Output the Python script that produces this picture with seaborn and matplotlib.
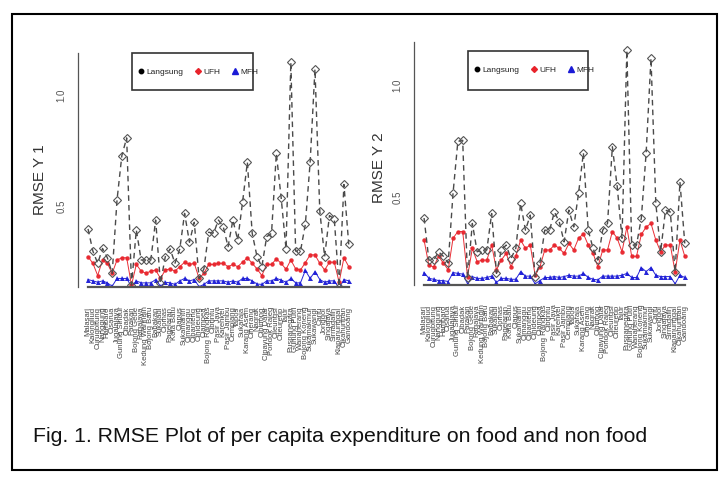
import numpy as np
import pandas as pd
import matplotlib
matplotlib.use("Agg")
import matplotlib.pyplot as plt
import seaborn as sns
from matplotlib.lines import Line2D
from matplotlib.patches import Rectangle

villages = [
    "Malasari", "Kalongliud", "Curugbitung", "Nanggung", "Hambaro", "Cisarua",
    "Jugalajaya", "Gunung Sindur", "Cibadak", "Parakan", "Bojong Gede", "Ragajaya",
    "Kedung Waringin", "Bojong Baru", "Babakan", "Sukajadi", "Ciomas", "Pagelaran",
    "Kota Batu", "Ciapus", "Sukamantri", "Cimanggu", "Cibanteng", "Cihideung",
    "Ciampea", "Bojong Rangkas", "Cibuntu", "Pasir Jaya", "Karehkel", "Pasir Jambu",
    "Cemplang", "Tapos", "Sukaraja", "Karang Asem", "Ciherang", "Nagrak",
    "Cibinong", "Cipayung Datar", "Pondok Rajeg", "Cileungsi", "Citeureup", "Tajur",
    "Puspanegara", "Gunung Putri", "Wanaherang", "Bojong Koneng", "Sukamakmur",
    "Sukawangi", "Cariu", "Jonggol", "Singajaya", "Sirnagalih", "Klapanunggal",
    "Cikahuripan", "Gandoang",
]

langsung_y1 = [0.40, 0.30, 0.245, 0.312, 0.27, 0.20, 0.53, 0.73, 0.81, 0.147,
               0.395, 0.26, 0.26, 0.26, 0.44, 0.155, 0.275, 0.31, 0.245, 0.31,
               0.47, 0.34, 0.43, 0.177, 0.22, 0.385, 0.38, 0.44, 0.41, 0.32,
               0.44, 0.35, 0.52, 0.70, 0.38, 0.275, 0.23, 0.365, 0.38, 0.74,
               0.54, 0.31, 1.15, 0.30, 0.30, 0.42, 0.70, 1.12, 0.48, 0.275,
               0.46, 0.445, 0.14, 0.60, 0.33]
ufh_y1 = [0.275, 0.245, 0.19, 0.26, 0.245, 0.20, 0.26, 0.27, 0.27, 0.147,
          0.24, 0.21, 0.20, 0.21, 0.215, 0.177, 0.215, 0.22, 0.21, 0.23,
          0.25, 0.24, 0.245, 0.177, 0.20, 0.24, 0.24, 0.245, 0.245, 0.23,
          0.24, 0.23, 0.25, 0.27, 0.245, 0.22, 0.19, 0.24, 0.24, 0.265,
          0.245, 0.218, 0.26, 0.22, 0.215, 0.248, 0.283, 0.283, 0.245, 0.215,
          0.25, 0.25, 0.16, 0.27, 0.23]
mfh_y1 = [0.172, 0.166, 0.16, 0.166, 0.157, 0.142, 0.177, 0.177, 0.177, 0.14,
          0.166, 0.157, 0.157, 0.157, 0.172, 0.142, 0.16, 0.157, 0.15, 0.166,
          0.177, 0.166, 0.172, 0.14, 0.15, 0.166, 0.166, 0.166, 0.166, 0.16,
          0.166, 0.16, 0.177, 0.177, 0.166, 0.152, 0.15, 0.166, 0.166, 0.177,
          0.17, 0.16, 0.177, 0.157, 0.157, 0.213, 0.177, 0.208, 0.172, 0.16,
          0.166, 0.166, 0.133, 0.172, 0.166]

langsung_y2 = [0.41, 0.223, 0.223, 0.26, 0.24, 0.21, 0.52, 0.75, 0.755, 0.142,
               0.386, 0.26, 0.268, 0.268, 0.43, 0.164, 0.268, 0.29, 0.23, 0.275,
               0.475, 0.356, 0.423, 0.15, 0.21, 0.356, 0.356, 0.437, 0.393, 0.304,
               0.445, 0.37, 0.52, 0.70, 0.356, 0.275, 0.223, 0.356, 0.386, 0.726,
               0.55, 0.32, 1.155, 0.29, 0.29, 0.41, 0.70, 1.12, 0.475, 0.26,
               0.445, 0.437, 0.17, 0.57, 0.297]
ufh_y2 = [0.312, 0.20, 0.193, 0.24, 0.21, 0.18, 0.32, 0.35, 0.35, 0.15,
          0.275, 0.216, 0.223, 0.223, 0.29, 0.18, 0.223, 0.253, 0.193, 0.24,
          0.312, 0.275, 0.29, 0.156, 0.193, 0.268, 0.268, 0.29, 0.275, 0.253,
          0.297, 0.268, 0.32, 0.34, 0.29, 0.253, 0.193, 0.268, 0.268, 0.35,
          0.32, 0.26, 0.37, 0.24, 0.24, 0.337, 0.37, 0.386, 0.312, 0.26,
          0.29, 0.29, 0.17, 0.312, 0.24]
mfh_y2 = [0.168, 0.142, 0.138, 0.132, 0.132, 0.128, 0.168, 0.164, 0.161, 0.118,
          0.15, 0.142, 0.142, 0.146, 0.152, 0.124, 0.142, 0.142, 0.138, 0.138,
          0.172, 0.152, 0.152, 0.118, 0.132, 0.146, 0.146, 0.15, 0.146, 0.15,
          0.156, 0.152, 0.152, 0.164, 0.146, 0.138, 0.135, 0.152, 0.152, 0.152,
          0.152, 0.156, 0.164, 0.146, 0.146, 0.19, 0.172, 0.19, 0.156, 0.15,
          0.15, 0.15, 0.118, 0.156, 0.146]

series_names = ["Langsung", "UFH", "MFH"]
y_tick_values = [0.5, 1.0]
y_labels = ["RMSE Y 1", "RMSE Y 2"]
caption = "Fig. 1. RMSE Plot of per capita expenditure on food and non food"

sns.set_style("white")
plt.rcParams["font.family"] = ["Liberation Sans", "DejaVu Sans"]

fig = plt.figure(figsize=(7.22, 4.78), dpi=100)
fig.patch.set_facecolor("white")

ax1 = fig.add_axes([0.1075, 0.3994, 0.390, 0.4887])
ax2 = fig.add_axes([0.5729, 0.4035, 0.390, 0.508])

C_BLACK = "#4a4a4a"
C_RED = "#e8232b"
C_BLUE = "#1a1ad6"


def panel(ax, lang, ufh, mfh, ylim, legend_box):
    n = len(villages)
    df = pd.DataFrame({"idx": np.arange(n), "Langsung": lang, "UFH": ufh, "MFH": mfh})
    sns.lineplot(data=df, x="idx", y="MFH", ax=ax, color=C_BLUE, linewidth=0.7,
                 marker="^", markersize=3.6, markeredgewidth=0, alpha=0.95)
    sns.lineplot(data=df, x="idx", y="UFH", ax=ax, color=C_RED, linewidth=0.7,
                 marker="o", markersize=3.2, markeredgewidth=0, alpha=0.95)
    sns.lineplot(data=df, x="idx", y="Langsung", ax=ax, color=C_BLACK, linewidth=1.0,
                 dashes=(4, 3), marker="D", markersize=4.0, markerfacecolor="none",
                 markeredgecolor="#555555", markeredgewidth=0.8)
    ax.set_xlim(-0.04 * (n - 1), (n - 1) * 1.04)
    ax.set_ylim(*ylim)
    ax.set_xlabel("")
    ax.set_ylabel("")
    ax.set_xticks(np.arange(n))
    ax.set_xticklabels(villages, rotation=90, fontsize=5.5, color="#444444",
                       va="top", ha="center")
    ax.set_yticks(y_tick_values)
    ax.set_yticklabels(["0.5", "1.0"], rotation=90, fontsize=7, color="#555555",
                       va="center")
    for s in ["top", "right"]:
        ax.spines[s].set_visible(False)
    ax.spines["left"].set_color("#555555")
    ax.spines["left"].set_linewidth(0.9)
    ax.spines["bottom"].set_color("#555555")
    ax.spines["bottom"].set_linewidth(1.6)
    ax.spines["bottom"].set_bounds(0, n - 1)
    ax.tick_params(axis="x", length=10, width=0.8, color="#555555", pad=4)
    ax.tick_params(axis="y", length=4, width=0.8, color="#555555", pad=4)
    ax.patch.set_alpha(0)

    x0, y0, w, h = legend_box
    ax.add_patch(Rectangle((x0, y0), w, h, transform=ax.transAxes, fill=False,
                           edgecolor="#333333", linewidth=1.2, clip_on=False, zorder=5))
    handles = [
        Line2D([], [], marker="o", color="black", ls="none", markersize=3.2),
        Line2D([], [], marker="D", color=C_RED, ls="none", markersize=3.0),
        Line2D([], [], marker="^", color=C_BLUE, ls="none", markersize=4.0),
    ]
    ax.legend(handles, series_names, ncol=3, frameon=False, fontsize=6,
              loc="center left", bbox_to_anchor=(x0 + 0.005, y0 + h / 2),
              handletextpad=0.15, columnspacing=1.2, handlelength=1.0,
              borderpad=0, labelcolor="#222222")


panel(ax1, langsung_y1, ufh_y1, mfh_y1, (0.138, 1.19), (0.192, 0.844, 0.431, 0.156))
panel(ax2, langsung_y2, ufh_y2, mfh_y2, (0.112, 1.19), (0.192, 0.803, 0.427, 0.162))

fig.text(40 / 722, 1 - 180 / 478, y_labels[0], rotation=90, fontsize=11,
         color="#333333", ha="center", va="center")
fig.text(379 / 722, 1 - 168 / 478, y_labels[1], rotation=90, fontsize=11,
         color="#333333", ha="center", va="center")

fig.text(33 / 722, 41 / 478, caption, fontsize=15.3, color="#111111",
         ha="left", va="center")

fig.add_artist(Rectangle((12 / 722, 8 / 478), 705 / 722, 456 / 478,
                         transform=fig.transFigure, fill=False,
                         edgecolor="black", linewidth=1.5))

fig.savefig("out.png", dpi=100, facecolor="white")
